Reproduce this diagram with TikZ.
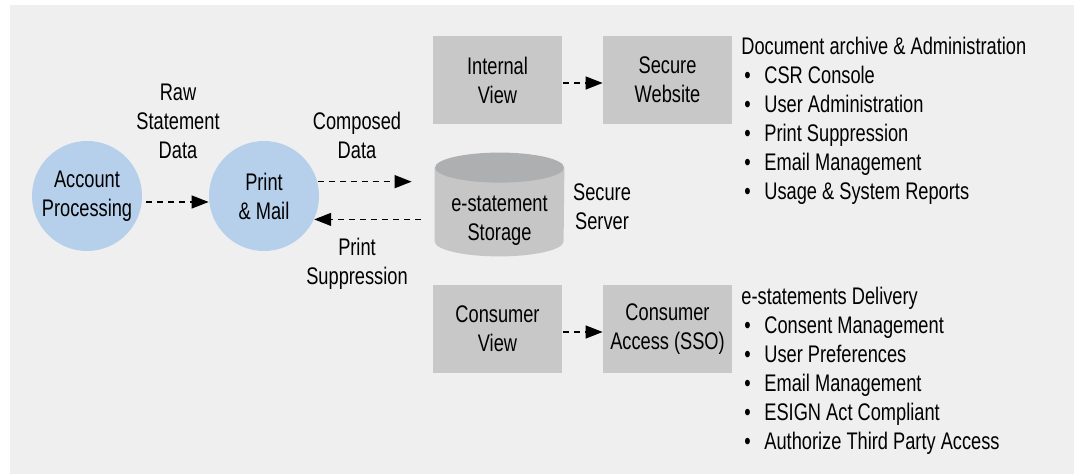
\documentclass[tikz,border=0pt]{standalone}
\usepackage{fontspec}
\setmainfont{Liberation Sans}[FakeStretch=0.76]
\usetikzlibrary{arrows.meta}

\definecolor{bggray}{HTML}{EFEFEF}
\definecolor{procblue}{HTML}{B6CFEB}
\definecolor{viewgray}{HTML}{C8C8C9}
\definecolor{storebody}{HTML}{C6C6C7}
\definecolor{storetop}{HTML}{AEAFB1}

\newcommand{\bul}{\hspace*{1.5pt}\makebox[10pt][l]{•}}

\begin{document}
\begin{tikzpicture}[x=0.5pt, y=-0.5pt, >={Triangle[length=8.5pt,width=6.5pt]}, font=\fontsize{12}{14.5}\selectfont]
                \tikzstyle{proc}=[circle, fill=procblue, minimum size=55pt, inner sep=0pt, align=center]
                \tikzstyle{view}=[rectangle, fill=viewgray, minimum width=64.5pt, minimum height=44pt, inner sep=0pt, align=center]
                \tikzstyle{store}=[rectangle, minimum width=64.5pt, minimum height=51.5pt, inner sep=0pt]
                \tikzstyle{flow}=[->, dash pattern=on 3pt off 2.5pt, line width=0.65pt]
                \tikzstyle{lbl}=[align=center, inner sep=0pt]
                \tikzstyle{list}=[align=left, anchor=north west, inner sep=0pt]
                
                \useasboundingbox (0,0) rectangle (1074,474);
                \fill[bggray] (10,5) rectangle (1074,474);
                
                \node[proc] (acct) at (87, 196) {Account\\Processing};
                \node[proc] (pm) at (264, 196) {Print\\\& Mail};
                \node[view] (iv) at (497.5, 80) {Internal\\View};
                \node[view] (sw) at (667.5, 80) {Secure\\Website};
                \node[view] (cv) at (497.5, 329) {Consumer\\View};
                \node[view] (ca) at (667.5, 329) {Consumer\\Access (SSO)};
                
                % storage drum
                \node[store] (stor) at (499.5, 204.5) {};
                \fill[storebody] ([yshift=-7.5pt]stor.north west) -- ([yshift=7.5pt]stor.south west)
                    arc[start angle=180, end angle=360, x radius=32.25pt, y radius=7.5pt]
                    -- ([yshift=-7.5pt]stor.north east) -- cycle;
                \fill[storetop] ([yshift=-7.5pt]stor.north) ellipse[x radius=32.25pt, y radius=7.5pt];
                \node[lbl] (storlbl) at (499.5, 221) {e-statement\\Storage};
                
                \node[lbl] (rawlbl) at (178, 121.5) {Raw\\Statement\\Data};
                \node[lbl] (complbl) at (357, 135.5) {Composed\\Data};
                \node[lbl] (supplbl) at (357, 263.5) {Print\\Suppression};
                \node[lbl] (srvlbl) at (602, 207) {Secure\\Server};
                
                \node[list] (archive) at (741, 37) {Document archive \& Administration\\
                    \bul CSR Console\\
                    \bul User Administration\\
                    \bul Print Suppression\\
                    \bul Email Management\\
                    \bul Usage \& System Reports};
                \node[list] (delivery) at (741, 287) {e-statements Delivery\\
                    \bul Consent Management\\
                    \bul User Preferences\\
                    \bul Email Management\\
                    \bul ESIGN Act Compliant\\
                    \bul Authorize Third Party Access};
                
                \draw[flow, shorten <=2pt] ([yshift=-3pt]acct.east) -- ([yshift=-3pt]acct.east -| pm.west);
                \draw[flow, shorten >=11.5pt] (pm.15) -- (pm.15 -| stor.west);
                \draw[flow, shorten <=7pt] (pm.-25 -| stor.west) -- (pm.-25);
                \draw[flow, shorten <=0.5pt] ([yshift=-1.5pt]iv.east) -- ([yshift=-1.5pt]sw.west);
                \draw[flow, shorten <=0.5pt] ([yshift=-1.5pt]cv.east) -- ([yshift=-1.5pt]ca.west);
            \end{tikzpicture}
\end{document}
